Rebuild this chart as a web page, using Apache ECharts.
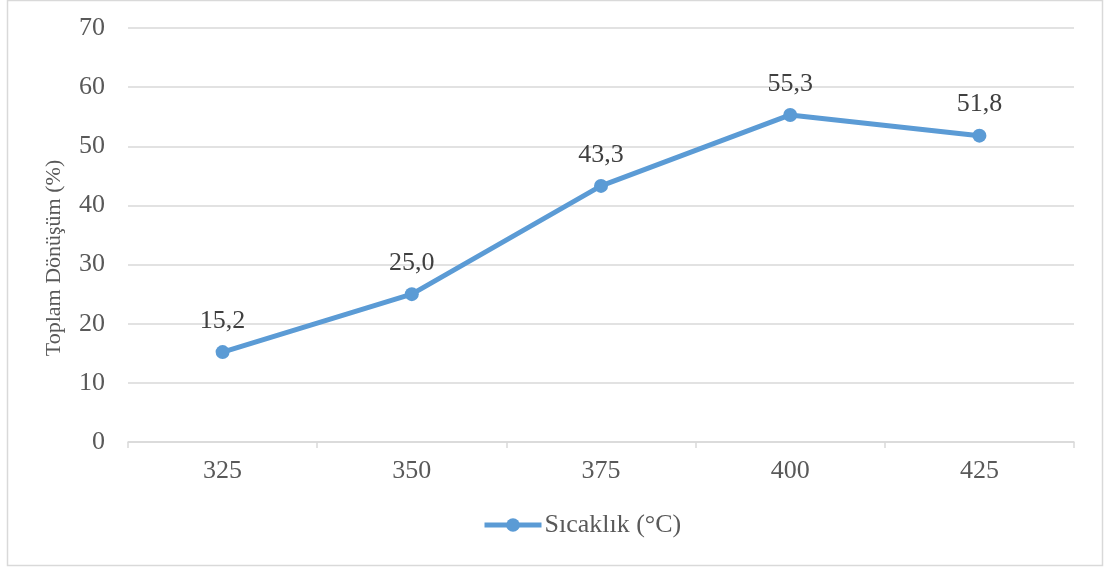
<!DOCTYPE html>
<html>
<head>
<meta charset="utf-8">
<script src="https://cdn.jsdelivr.net/npm/echarts@6/dist/echarts.min.js"></script>
<style>
  html, body { margin: 0; padding: 0; background: #fff; }
  #chart { width: 1107px; height: 570px; }
</style>
</head>
<body>
<div id="chart"></div>
<script>
// Temperature steps (°C) and total conversion (%)
const categories = ['325', '350', '375', '400', '425'];
const conversion = [15.2, 25.0, 43.3, 55.3, 51.8];
const seriesName = 'Sıcaklık (°C)';
const yAxisName = 'Toplam Dönüşüm (%)';

const FONT = '"Liberation Serif", "Times New Roman", serif';
const BLUE = '#5B9BD5';

const chart = echarts.init(document.getElementById('chart'), null, { renderer: 'canvas' });

chart.setOption({
  backgroundColor: '#fff',
  animation: false,
  graphic: [{
    type: 'rect',
    shape: { x: 7.5, y: 0.5, width: 1095, height: 565 },
    style: { fill: 'none', stroke: '#d9d9d9', lineWidth: 1.5 },
    silent: true
  }],
  grid: { left: 128, right: 33, top: 28, bottom: 128, containLabel: false },
  legend: {
    data: [seriesName],
    left: 477,
    top: 507,
    itemWidth: 57,
    itemHeight: 17,
    itemGap: 4,
    lineStyle: { width: 5 },
    textStyle: { fontFamily: FONT, fontSize: 26, color: '#595959', padding: [0, 0, 0, -2] }
  },
  xAxis: {
    type: 'category',
    data: categories,
    boundaryGap: true,
    axisLine: { show: true, lineStyle: { color: '#d9d9d9', width: 1.5 } },
    axisTick: { show: true, length: 6, alignWithLabel: false, lineStyle: { color: '#d9d9d9', width: 1.5 } },
    axisLabel: { fontFamily: FONT, fontSize: 26, color: '#595959', margin: 16 },
    splitLine: { show: false }
  },
  yAxis: {
    type: 'value',
    min: 0,
    max: 70,
    interval: 10,
    name: yAxisName,
    nameLocation: 'middle',
    nameGap: 63,
    nameRotate: 90,
    nameTextStyle: { fontFamily: FONT, fontSize: 22, color: '#595959', padding: [0, 46, 0, 0] },
    axisLine: { show: false },
    axisTick: { show: false },
    axisLabel: { fontFamily: FONT, fontSize: 26, color: '#595959', margin: 23 },
    splitLine: { show: true, lineStyle: { color: '#d9d9d9', width: 1.5 } }
  },
  series: [{
    name: seriesName,
    type: 'line',
    data: conversion,
    symbol: 'circle',
    symbolSize: 14,
    lineStyle: { color: BLUE, width: 5 },
    itemStyle: { color: BLUE },
    label: {
      show: true,
      position: 'top',
      distance: 11,
      fontFamily: FONT,
      fontSize: 26,
      color: '#404040',
      formatter: p => p.value.toFixed(1).replace('.', ',')
    }
  }]
});
</script>
</body>
</html>
